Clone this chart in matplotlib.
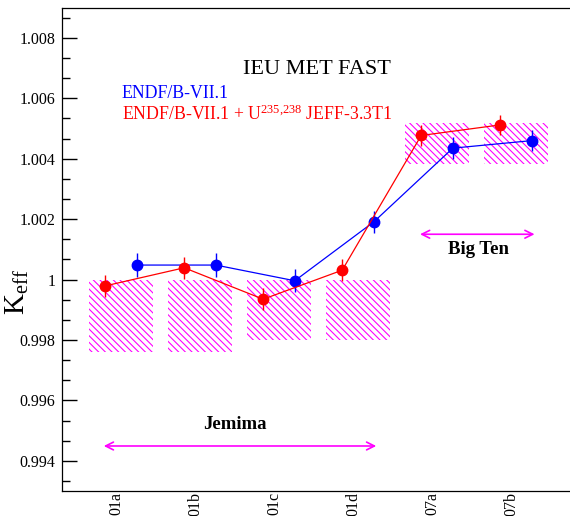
import numpy as np
import matplotlib
matplotlib.use('Agg')
import matplotlib.pyplot as plt
from matplotlib.patches import Rectangle
from matplotlib.ticker import AutoMinorLocator, FuncFormatter, MultipleLocator

plt.rcParams['font.family'] = ['Liberation Serif', 'DejaVu Serif']
plt.rcParams['mathtext.fontset'] = 'custom'
plt.rcParams['mathtext.rm'] = 'Liberation Serif'
plt.rcParams['mathtext.it'] = 'Liberation Serif:italic'
plt.rcParams['hatch.linewidth'] = 0.8

casos = ['01a', '01b', '01c', '01d', '07a', '07b']
bench = [0.9988, 0.9988, 0.9990, 0.9990, 1.00451, 1.00451]
bench_unc = [0.0012, 0.0012, 0.0010, 0.0010, 0.00068, 0.00068]
keff_endf = [1.00048, 1.00048, 0.99996, 1.00191, 1.00435, 1.00460]
err_endf = [0.00040, 0.00040, 0.00038, 0.00037, 0.00036, 0.00036]
keff_jeff = [0.99979, 1.00039, 0.99935, 1.00031, 1.00477, 1.00512]
err_jeff = [0.00036, 0.00037, 0.00036, 0.00036, 0.00035, 0.00033]

x = np.arange(1, len(casos) + 1)
DESLOC = 0.2
LARG_CAIXA = 0.8

fig = plt.figure(figsize=(5.7, 5.16), dpi=100)
esq = 62.3 / 570
base = 1 - 491 / 516
topo = 1 - 7.7 / 516
ax = fig.add_axes([esq, base, 1.01 - esq, topo - base])

# caixas do benchmark (incerteza)
for xi, b, u in zip(x, bench, bench_unc):
    ax.add_patch(Rectangle((xi - LARG_CAIXA / 2, b - u), LARG_CAIXA, 2 * u,
                           facecolor='none', edgecolor='#ff00ff', lw=0,
                           hatch='\\' * 5, zorder=1))

ax.errorbar(x + DESLOC, keff_endf, yerr=err_endf, color='#0000ff', marker='o',
            ms=7.5, lw=0.9, elinewidth=1.0, capsize=0, zorder=3)
ax.errorbar(x - DESLOC, keff_jeff, yerr=err_jeff, color='#ff0000', marker='o',
            ms=7.5, lw=0.9, elinewidth=1.0, capsize=0, zorder=4)

ax.set_xlim(0.257, 0.257 + 570 * (1.01 - esq) / 79)
ax.set_ylim(0.993, 1.009)

ax.set_xticks(x - 0.063)
ax.set_xticklabels(casos, rotation=90, fontsize=11.5)
ax.tick_params(axis='x', length=0, pad=0.5)

ax.yaxis.set_major_locator(MultipleLocator(0.002))
ax.yaxis.set_minor_locator(AutoMinorLocator(3))
ax.yaxis.set_major_formatter(FuncFormatter(lambda v, p: '%g' % round(v, 4)))
ax.tick_params(axis='y', which='major', direction='in', length=10.5, width=1.0,
               labelsize=11.5, pad=5)
ax.tick_params(axis='y', which='minor', direction='in', length=5.5, width=1.0)

for s in ax.spines.values():
    s.set_linewidth(0.9)

fig.text(0.031, 1 - 292 / 516, r'K$_{\mathrm{eff}}$', rotation=90,
         ha='center', va='center', fontsize=21)

ax.text(3.475, 1.00681, 'IEU MET FAST', ha='center', va='baseline', fontsize=16)
ax.text(1.009, 1.00600, 'ENDF/B-VII.1', color='#0000ff', ha='left',
        va='baseline', fontsize=12.8)
ax.text(1.009, 1.00527, r'ENDF/B-VII.1 + U$^{235{,}238}$ JEFF-3.3T1',
        color='#ff0000', ha='left', va='baseline', fontsize=12.8)

ax.annotate('', xy=(0.747, 0.99449), xytext=(4.266, 0.99449),
            arrowprops=dict(arrowstyle='<->', color='#ff00ff', lw=1.2,
                            mutation_scale=14))
ax.text(2.437, 0.99519, 'Jemima', ha='center', va='center',
        fontsize=13.5, fontweight='bold')

ax.annotate('', xy=(4.75, 1.0015), xytext=(6.27, 1.0015),
            arrowprops=dict(arrowstyle='<->', color='#ff00ff', lw=1.2,
                            mutation_scale=14))
ax.text(5.53, 1.00098, 'Big Ten', ha='center', va='center',
        fontsize=13.5, fontweight='bold')

fig.savefig('out.png', dpi=100)
